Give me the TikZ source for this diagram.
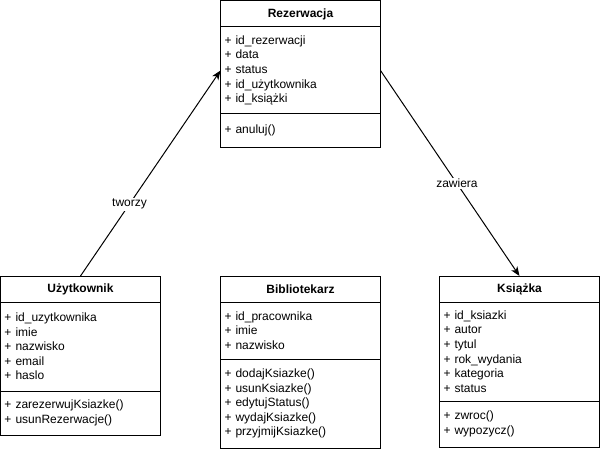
\documentclass[tikz,border=0pt]{standalone}
\usepackage{fontspec}
\setmainfont{Liberation Sans}
\usetikzlibrary{arrows.meta,positioning}

\begin{document}
\begin{tikzpicture}[x=0.75pt,y=-0.75pt,->,>={Stealth[length=7pt,width=5.5pt,inset=2pt]},line width=0.75pt,
    head/.style={draw,outer sep=0pt,minimum width=120pt,minimum height=19.5pt,inner sep=0pt,font=\fontsize{9pt}{11pt}\selectfont\bfseries},
    part/.style={draw,outer sep=0pt,minimum width=120pt,text width=114pt,inner xsep=3pt,inner ysep=0pt,align=left,font=\fontsize{9pt}{10.95pt}\selectfont},
    rel/.style={fill=white,inner sep=1pt,font=\fontsize{9pt}{11pt}\selectfont}]
      \useasboundingbox (0,0) rectangle (600,453);
      % Rezerwacja
      \node[head] (rez) at (300.5,14) {Rezerwacja};
      \node[part,minimum height=65.25pt,below=0pt of rez] (rez attr) {+ id\_rezerwacji\\+ data\\+ status\\+ id\_użytkownika\\+ id\_książki};
      \node[part,minimum height=24.75pt,below=0pt of rez attr] (rez meth) {+ anuluj()};
      % Uzytkownik
      \node[head] (uzy) at (80.5,289) {Użytkownik};
      \node[part,minimum height=66.75pt,below=0pt of uzy] (uzy attr) {+ id\_uzytkownika\\+ imie\\+ nazwisko\\+ email\\+ haslo};
      \node[part,minimum height=33pt,below=0pt of uzy attr] (uzy meth) {+ zarezerwujKsiazke()\\+ usunRezerwacje()};
      % Bibliotekarz
      \node[head] (bib) at (300.5,289) {Bibliotekarz};
      \node[part,minimum height=42.75pt,below=0pt of bib] (bib attr) {+ id\_pracownika\\+ imie\\+ nazwisko};
      \node[part,minimum height=66.75pt,below=0pt of bib attr] (bib meth) {+ dodajKsiazke()\\+ usunKsiazke()\\+ edytujStatus()\\+ wydajKsiazke()\\+ przyjmijKsiazke()};
      % Ksiazka
      \node[head] (ksi) at (519.5,289) {Książka};
      \node[part,minimum height=74.25pt,below=0pt of ksi] (ksi attr) {+ id\_ksiazki\\+ autor\\+ tytul\\+ rok\_wydania\\+ kategoria\\+ status};
      \node[part,minimum height=34.5pt,below=0pt of ksi attr] (ksi meth) {+ zwroc()\\+ wypozycz()};
      \path (uzy.north) edge node[rel,pos=0.35] {tworzy} (rez attr.west)
      (rez attr.east) edge node[rel,pos=0.55] {zawiera} (ksi.north);
    \end{tikzpicture}
\end{document}
